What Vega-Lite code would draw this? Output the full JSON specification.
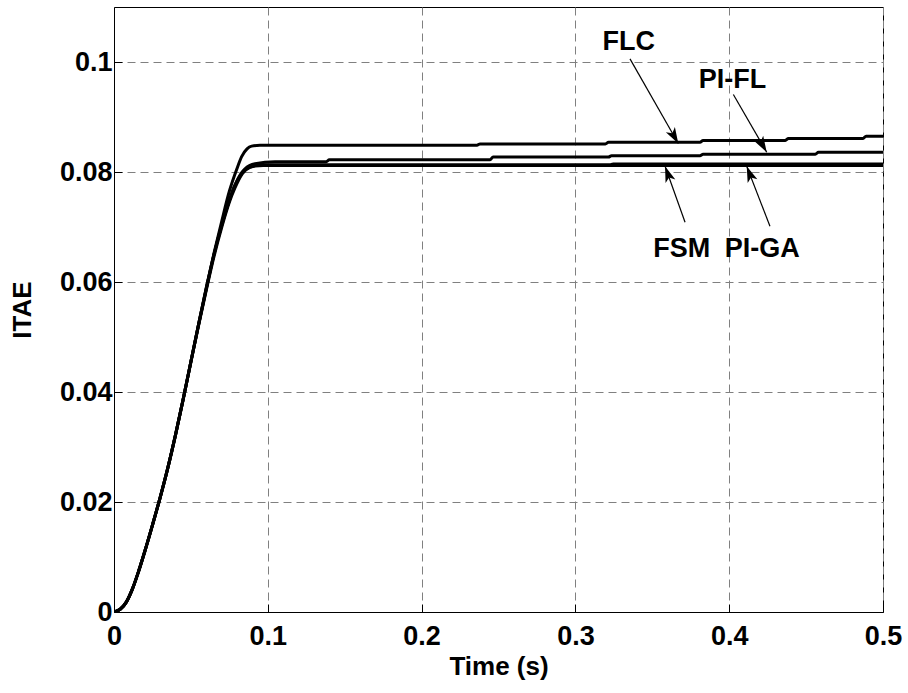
{
  "$schema": "https://vega.github.io/schema/vega-lite/v6.json",
  "width": 769,
  "height": 605,
  "autosize": "none",
  "padding": {"left": 114, "top": 7, "right": 25, "bottom": 81},
  "background": "white",
  "config": {
    "font": "Liberation Sans",
    "view": {"stroke": "black", "strokeWidth": 1},
    "axis": {
      "grid": true,
      "gridColor": "#808080",
      "gridDash": [8, 5],
      "gridWidth": 1,
      "gridOpacity": 1,
      "domainColor": "black",
      "domainWidth": 1,
      "tickColor": "black",
      "tickSize": -8,
      "tickWidth": 1,
      "labelFont": "Liberation Sans",
      "labelFontSize": 27,
      "labelFontWeight": "bold",
      "labelColor": "black",
      "titleFont": "Liberation Sans",
      "titleFontSize": 26,
      "titleFontWeight": "bold",
      "titleColor": "black",
      "labelFlush": false,
      "labelOverlap": false
    }
  },
  "datasets": {
    "curves": [
      {"series": "FLC", "t": 0, "v": 0},
      {"series": "FLC", "t": 0.004, "v": 0.0005},
      {"series": "FLC", "t": 0.008, "v": 0.0018},
      {"series": "FLC", "t": 0.012, "v": 0.0042},
      {"series": "FLC", "t": 0.016, "v": 0.0074},
      {"series": "FLC", "t": 0.02, "v": 0.011},
      {"series": "FLC", "t": 0.025, "v": 0.0158},
      {"series": "FLC", "t": 0.03, "v": 0.0208},
      {"series": "FLC", "t": 0.035, "v": 0.0262},
      {"series": "FLC", "t": 0.04, "v": 0.0322},
      {"series": "FLC", "t": 0.045, "v": 0.0387},
      {"series": "FLC", "t": 0.05, "v": 0.0455},
      {"series": "FLC", "t": 0.055, "v": 0.0523},
      {"series": "FLC", "t": 0.06, "v": 0.059},
      {"series": "FLC", "t": 0.065, "v": 0.0652},
      {"series": "FLC", "t": 0.07, "v": 0.071},
      {"series": "FLC", "t": 0.075, "v": 0.0765},
      {"series": "FLC", "t": 0.0798, "v": 0.0805},
      {"series": "FLC", "t": 0.083, "v": 0.0828},
      {"series": "FLC", "t": 0.0865, "v": 0.0842},
      {"series": "FLC", "t": 0.0895, "v": 0.0847},
      {"series": "FLC", "t": 0.0949, "v": 0.08487},
      {"series": "FLC", "t": 0.236, "v": 0.08487},
      {"series": "FLC", "t": 0.238, "v": 0.0851},
      {"series": "FLC", "t": 0.3195, "v": 0.0851},
      {"series": "FLC", "t": 0.3215, "v": 0.0854},
      {"series": "FLC", "t": 0.381, "v": 0.0854},
      {"series": "FLC", "t": 0.383, "v": 0.08575},
      {"series": "FLC", "t": 0.4365, "v": 0.08575},
      {"series": "FLC", "t": 0.4385, "v": 0.0861},
      {"series": "FLC", "t": 0.487, "v": 0.0861},
      {"series": "FLC", "t": 0.489, "v": 0.0865},
      {"series": "FLC", "t": 0.5, "v": 0.0865},

      {"series": "PI-FL", "t": 0, "v": 0},
      {"series": "PI-FL", "t": 0.004, "v": 0.0005},
      {"series": "PI-FL", "t": 0.008, "v": 0.0018},
      {"series": "PI-FL", "t": 0.012, "v": 0.0042},
      {"series": "PI-FL", "t": 0.016, "v": 0.0074},
      {"series": "PI-FL", "t": 0.02, "v": 0.011},
      {"series": "PI-FL", "t": 0.025, "v": 0.0158},
      {"series": "PI-FL", "t": 0.03, "v": 0.0208},
      {"series": "PI-FL", "t": 0.035, "v": 0.0262},
      {"series": "PI-FL", "t": 0.04, "v": 0.0322},
      {"series": "PI-FL", "t": 0.045, "v": 0.0387},
      {"series": "PI-FL", "t": 0.05, "v": 0.0455},
      {"series": "PI-FL", "t": 0.055, "v": 0.0523},
      {"series": "PI-FL", "t": 0.06, "v": 0.0588},
      {"series": "PI-FL", "t": 0.065, "v": 0.065},
      {"series": "PI-FL", "t": 0.07, "v": 0.0703},
      {"series": "PI-FL", "t": 0.075, "v": 0.0748},
      {"series": "PI-FL", "t": 0.078, "v": 0.0772},
      {"series": "PI-FL", "t": 0.083, "v": 0.0799},
      {"series": "PI-FL", "t": 0.0852, "v": 0.0806},
      {"series": "PI-FL", "t": 0.0917, "v": 0.0815},
      {"series": "PI-FL", "t": 0.1047, "v": 0.08185},
      {"series": "PI-FL", "t": 0.138, "v": 0.08185},
      {"series": "PI-FL", "t": 0.14, "v": 0.08223},
      {"series": "PI-FL", "t": 0.2445, "v": 0.08223},
      {"series": "PI-FL", "t": 0.2465, "v": 0.08272},
      {"series": "PI-FL", "t": 0.3215, "v": 0.08272},
      {"series": "PI-FL", "t": 0.3235, "v": 0.08296},
      {"series": "PI-FL", "t": 0.381, "v": 0.08296},
      {"series": "PI-FL", "t": 0.383, "v": 0.08321},
      {"series": "PI-FL", "t": 0.456, "v": 0.08321},
      {"series": "PI-FL", "t": 0.458, "v": 0.08359},
      {"series": "PI-FL", "t": 0.5, "v": 0.08359},

      {"series": "FSM", "t": 0, "v": 0},
      {"series": "FSM", "t": 0.004, "v": 0.0005},
      {"series": "FSM", "t": 0.008, "v": 0.0018},
      {"series": "FSM", "t": 0.012, "v": 0.0042},
      {"series": "FSM", "t": 0.016, "v": 0.0074},
      {"series": "FSM", "t": 0.02, "v": 0.011},
      {"series": "FSM", "t": 0.025, "v": 0.0158},
      {"series": "FSM", "t": 0.03, "v": 0.0208},
      {"series": "FSM", "t": 0.035, "v": 0.0262},
      {"series": "FSM", "t": 0.04, "v": 0.0322},
      {"series": "FSM", "t": 0.045, "v": 0.0387},
      {"series": "FSM", "t": 0.05, "v": 0.0455},
      {"series": "FSM", "t": 0.055, "v": 0.0523},
      {"series": "FSM", "t": 0.06, "v": 0.0588},
      {"series": "FSM", "t": 0.065, "v": 0.065},
      {"series": "FSM", "t": 0.07, "v": 0.0703},
      {"series": "FSM", "t": 0.075, "v": 0.0748},
      {"series": "FSM", "t": 0.078, "v": 0.0772},
      {"series": "FSM", "t": 0.083, "v": 0.0797},
      {"series": "FSM", "t": 0.0852, "v": 0.0804},
      {"series": "FSM", "t": 0.0917, "v": 0.0811},
      {"series": "FSM", "t": 0.097, "v": 0.0812},
      {"series": "FSM", "t": 0.5, "v": 0.0812},

      {"series": "PI-GA", "t": 0, "v": 0},
      {"series": "PI-GA", "t": 0.004, "v": 0.0005},
      {"series": "PI-GA", "t": 0.008, "v": 0.0018},
      {"series": "PI-GA", "t": 0.012, "v": 0.0042},
      {"series": "PI-GA", "t": 0.016, "v": 0.0074},
      {"series": "PI-GA", "t": 0.02, "v": 0.011},
      {"series": "PI-GA", "t": 0.025, "v": 0.0158},
      {"series": "PI-GA", "t": 0.03, "v": 0.0208},
      {"series": "PI-GA", "t": 0.035, "v": 0.0262},
      {"series": "PI-GA", "t": 0.04, "v": 0.0322},
      {"series": "PI-GA", "t": 0.045, "v": 0.0387},
      {"series": "PI-GA", "t": 0.05, "v": 0.0455},
      {"series": "PI-GA", "t": 0.055, "v": 0.0521},
      {"series": "PI-GA", "t": 0.06, "v": 0.0585},
      {"series": "PI-GA", "t": 0.065, "v": 0.0646},
      {"series": "PI-GA", "t": 0.07, "v": 0.0699},
      {"series": "PI-GA", "t": 0.075, "v": 0.0745},
      {"series": "PI-GA", "t": 0.0785, "v": 0.077},
      {"series": "PI-GA", "t": 0.0835, "v": 0.0797},
      {"series": "PI-GA", "t": 0.0857, "v": 0.0804},
      {"series": "PI-GA", "t": 0.092, "v": 0.0812},
      {"series": "PI-GA", "t": 0.097, "v": 0.0813},
      {"series": "PI-GA", "t": 0.3225, "v": 0.0813},
      {"series": "PI-GA", "t": 0.3245, "v": 0.08145},
      {"series": "PI-GA", "t": 0.5, "v": 0.08145}
    ],
    "notes": [
      {"label": "FLC", "tx": 0.3347, "ty": 0.1036, "t0": 0.3355, "v0": 0.10057, "t1": 0.3669, "v1": 0.08517},
      {"label": "PI-FL", "tx": 0.4021, "ty": 0.0967, "t0": 0.4027, "v0": 0.09408, "t1": 0.4244, "v1": 0.08359},
      {"label": "FSM", "tx": 0.3691, "ty": 0.066, "t0": 0.3713, "v0": 0.07087, "t1": 0.3583, "v1": 0.08105},
      {"label": "PI-GA", "tx": 0.4215, "ty": 0.066, "t0": 0.4265, "v0": 0.07014, "t1": 0.4114, "v1": 0.08105}
    ]
  },
  "layer": [
    {
      "data": {"name": "curves"},
      "mark": {"type": "line", "color": "black", "strokeWidth": 3, "clip": true, "strokeJoin": "round", "interpolate": "monotone"},
      "encoding": {
        "x": {
          "field": "t", "type": "quantitative",
          "scale": {"domain": [0, 0.5], "nice": false, "zero": false},
          "axis": {"title": "Time (s)", "values": [0, 0.1, 0.2, 0.3, 0.4, 0.5], "format": "~g", "labelPadding": 19, "titlePadding": 4}
        },
        "y": {
          "field": "v", "type": "quantitative",
          "scale": {"domain": [0, 0.11], "nice": false, "zero": false},
          "axis": {"title": "ITAE", "values": [0, 0.02, 0.04, 0.06, 0.08, 0.1], "format": "~g", "labelPadding": 10, "titlePadding": 24}
        },
        "detail": {"field": "series", "type": "nominal"}
      }
    },
    {
      "data": {"name": "notes"},
      "mark": {"type": "rule", "color": "black", "strokeWidth": 1.2},
      "encoding": {
        "x": {"field": "t0", "type": "quantitative"},
        "y": {"field": "v0", "type": "quantitative"},
        "x2": {"field": "t1"},
        "y2": {"field": "v1"}
      }
    },
    {
      "data": {"name": "notes"},
      "mark": {"type": "point", "shape": "M0,0 L0.65,2 L0,1.5 L-0.65,2 Z", "filled": true, "color": "black", "opacity": 1, "size": 256, "strokeWidth": 0},
      "encoding": {
        "x": {"field": "t1", "type": "quantitative"},
        "y": {"field": "v1", "type": "quantitative"},
        "angle": {
          "condition": [
            {"test": "datum.label === 'FLC'", "value": 150.3},
            {"test": "datum.label === 'PI-FL'", "value": 149.9},
            {"test": "datum.label === 'FSM'", "value": 340.3}
          ],
          "value": 338.8
        }
      }
    },
    {
      "data": {"name": "notes"},
      "mark": {"type": "text", "font": "Liberation Sans", "fontSize": 27, "fontWeight": "bold", "color": "black", "align": "center", "baseline": "middle"},
      "encoding": {
        "x": {"field": "tx", "type": "quantitative"},
        "y": {"field": "ty", "type": "quantitative"},
        "text": {"field": "label", "type": "nominal"}
      }
    }
  ]
}
